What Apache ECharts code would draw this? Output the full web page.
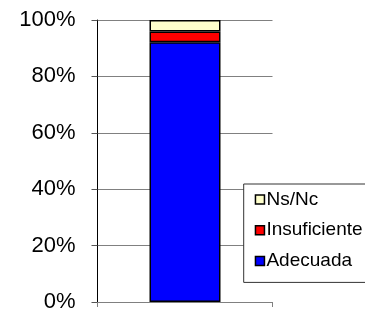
<!DOCTYPE html>
<html>
<head>
<meta charset="utf-8">
<style>html,body{margin:0;padding:0;background:#fff;}#c{width:365px;height:313px;}</style>
<script src="https://cdn.jsdelivr.net/npm/echarts@6/dist/echarts.min.js"></script>
</head>
<body>
<div id="c"></div>
<script>
const categories = [''];
const adecuada = [92.1];
const insuficiente = [3.8];
const nsnc = [4.1];
const yTicks = [0, 20, 40, 60, 80, 100];

const chart = echarts.init(document.getElementById('c'), null, {renderer: 'canvas'});
const font = '"Liberation Sans", Arial, sans-serif';
const border = {borderColor: '#000', borderWidth: 1.5};
chart.setOption({
  animation: false,
  backgroundColor: '#fff',
  grid: {left: 97.5, right: 92.5, top: 20, bottom: 9.7, containLabel: false},
  xAxis: {
    type: 'category', data: categories,
    axisLine: {lineStyle: {color: '#808080', width: 1}},
    axisTick: {show: true, length: 5, lineStyle: {color: '#808080'}},
    axisLabel: {show: false},
    splitLine: {show: false}
  },
  yAxis: {
    type: 'value', min: yTicks[0], max: yTicks[yTicks.length - 1], interval: 20,
    axisLine: {show: true, lineStyle: {color: '#000', width: 1}},
    axisTick: {show: true, length: 6, lineStyle: {color: '#555'}},
    axisLabel: {formatter: '{value}%', color: '#000', fontSize: 22, fontFamily: font, margin: 22},
    splitLine: {show: true, lineStyle: {color: '#808080', width: 1}}
  },
  legend: {
    orient: 'vertical', left: 243.7, top: 184,
    data: ['Ns/Nc', 'Insuficiente', 'Adecuada'],
    itemWidth: 9, itemHeight: 9, itemGap: 9.7,
    icon: 'rect',
    padding: [5, 10, 11, 11],
    backgroundColor: '#fff', borderColor: '#333', borderWidth: 1,
    textStyle: {fontSize: 19, fontFamily: font, color: '#000', lineHeight: 21, padding: [0, 0, 0, -3]},
    itemStyle: {borderColor: '#000', borderWidth: 1.5}
  },
  series: [
    {name: 'Adecuada', type: 'bar', stack: 't', data: adecuada, barWidth: 71,
     itemStyle: Object.assign({color: '#0000FF'}, border)},
    {name: 'Insuficiente', type: 'bar', stack: 't', data: insuficiente, barWidth: 71,
     itemStyle: Object.assign({color: '#FF0000'}, border)},
    {name: 'Ns/Nc', type: 'bar', stack: 't', data: nsnc, barWidth: 71,
     itemStyle: Object.assign({color: '#FFFFCC'}, border)}
  ]
});
</script>
</body>
</html>
